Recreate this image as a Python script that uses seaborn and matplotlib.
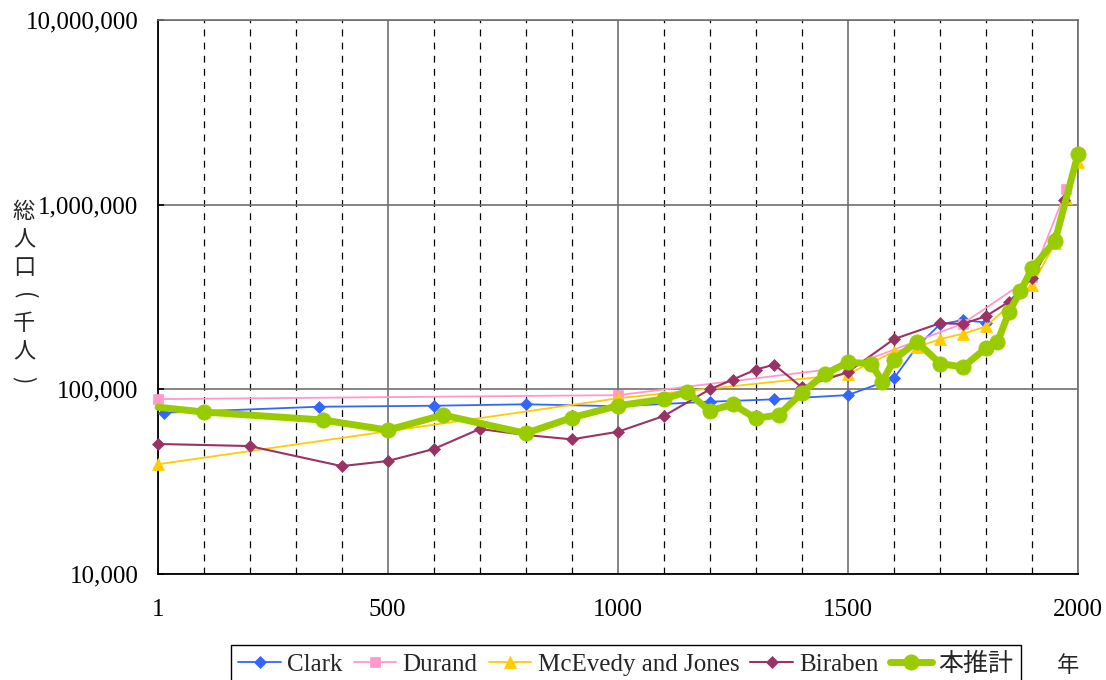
import numpy as np
import pandas as pd
import matplotlib
matplotlib.use("Agg")
import matplotlib.pyplot as plt
import seaborn as sns
from matplotlib.ticker import FixedLocator, FuncFormatter, NullLocator, MultipleLocator

# ---------------- data ----------------
clark_years = [14, 350, 600, 800, 1000, 1200, 1340, 1500, 1600, 1650, 1700, 1750, 1800]
clark_vals = [74700, 80500, 81500, 83000, 81000, 85700, 88300, 93100, 114700, 170000,
              225000, 237000, 230000]

durand_years = [1, 1000, 1500, 1750, 1900, 1975]
durand_vals = [88500, 93000, 132000, 227000, 407000, 1210000]

mcevedy_years = [1, 1000, 1500, 1600, 1650, 1700, 1750, 1800, 1900, 1950, 1975, 2000]
mcevedy_vals = [39300, 89400, 121000, 160000, 169000, 187000, 200000, 219000, 367000,
                617000, 1080000, 1710000]

biraben_years = [1, 200, 400, 500, 600, 700, 800, 900, 1000, 1100, 1200, 1250, 1300, 1340,
                 1400, 1500, 1600, 1700, 1750, 1800, 1850, 1900, 1950, 1970]
biraben_vals = [50600, 49300, 38400, 40900, 47500, 61000, 56600, 53600, 58900, 71700,
                100000, 113000, 128000, 136000, 102500, 124000, 187000, 228000, 226000,
                249000, 298000, 400000, 666000, 1060000]

est_years = [1, 100, 360, 500, 620, 800, 900, 1000, 1100, 1150, 1200, 1250, 1300, 1350,
             1400, 1450, 1500, 1550, 1575, 1600, 1650, 1700, 1750, 1800, 1825, 1850, 1875,
             1900, 1950, 2000]
est_vals = [80000, 75400, 68200, 60200, 72600, 57800, 70200, 81500, 88600, 97000, 76600,
            82900, 69700, 72600, 95900, 121000, 140000, 138000, 110000, 145000, 181000,
            138000, 132000, 167000, 180000, 263000, 339000, 452000, 635000, 1879000]

series_names = ["Clark", "Durand", "McEvedy and Jones", "Biraben", "本推計"]

x_ticks = [1, 500, 1000, 1500, 2000]
y_ticks = [10000, 100000, 1000000, 10000000]
y_label_chars = ["総", "人", "口", "(", "千", "人", ")"]
x_unit = "年"

# ---------------- style ----------------
sns.set_style("white")
plt.rcParams['font.family'] = ['Liberation Serif', 'Noto Sans CJK JP']
plt.rcParams['axes.unicode_minus'] = False

W, H = 1106, 680
fig = plt.figure(figsize=(W / 100, H / 100), dpi=100)
fig.patch.set_facecolor("white")
ax = fig.add_axes([158 / W, 1 - 574 / H, 920 / W, 554 / H])
ax.set_facecolor("white")
ax.set_yscale("log")
ax.set_xlim(1, 2000)
ax.set_ylim(1e4, 1e7)

styles = [
    dict(color="#3366FF", marker="D", markersize=6.5, linewidth=1.3),
    dict(color="#FF99CC", marker="s", markersize=7.5, linewidth=1.3),
    dict(color="#FFCC00", marker="^", markersize=8.5, linewidth=1.3),
    dict(color="#993366", marker="D", markersize=6.5, linewidth=1.5),
    dict(color="#99CC00", marker="o", markersize=11, linewidth=5.0),
]
data = [(clark_years, clark_vals), (durand_years, durand_vals),
        (mcevedy_years, mcevedy_vals), (biraben_years, biraben_vals),
        (est_years, est_vals)]

for i, ((xs, ys), name, st) in enumerate(zip(data, series_names, styles)):
    extra = {}
    if i == 4:
        extra["markevery"] = list(range(1, len(xs)))
    sns.lineplot(x=xs, y=ys, ax=ax, label=name, sort=False,
                 markeredgecolor=st["color"], markeredgewidth=0.5,
                 zorder=3 + i, clip_on=False, **st, **extra)

# ---------------- axes / grid ----------------
ax.xaxis.set_major_locator(FixedLocator(x_ticks))
ax.xaxis.set_minor_locator(MultipleLocator(100))
ax.yaxis.set_major_locator(FixedLocator(y_ticks))
ax.yaxis.set_minor_locator(NullLocator())
ax.yaxis.set_major_formatter(FuncFormatter(lambda v, p: f"{v:,.0f}"))
ax.xaxis.set_major_formatter(FuncFormatter(lambda v, p: f"{v:.0f}"))

ax.set_axisbelow(True)
ax.grid(False)
ax.grid(which="major", axis="x", color="#707070", linewidth=1.2, linestyle="-")
ax.grid(which="minor", axis="x", color="#000000", linewidth=0.9, linestyle=(0, (5.5, 5)))
ax.grid(which="major", axis="y", color="#707070", linewidth=1.2, linestyle="-")

ax.tick_params(axis="y", which="major", direction="in", length=4, width=1.2,
               pad=14, labelsize=18, colors="black", left=True)
ax.tick_params(axis="x", which="both", length=0, pad=18, labelsize=18, colors="black")
ax.set_xlabel("")
ax.set_ylabel("")

for side in ["left", "bottom"]:
    ax.spines[side].set_color("#000000")
    ax.spines[side].set_linewidth(1.3)
for side in ["top", "right"]:
    ax.spines[side].set_color("#707070")
    ax.spines[side].set_linewidth(1.2)

# ---------------- legend ----------------
handles, labels = ax.get_legend_handles_labels()
if ax.get_legend() is not None:
    ax.get_legend().remove()
leg = fig.legend(handles, labels, loc="upper center",
                 bbox_to_anchor=(626 / W, 1 - 645 / H), ncol=5, fontsize=18,
                 frameon=True, fancybox=False, framealpha=1, edgecolor="#000000",
                 handlelength=1.7, handletextpad=0.25, columnspacing=0.45,
                 borderpad=0.3, borderaxespad=0)
leg.get_frame().set_linewidth(1.0)
for h in leg.legend_handles:
    h.set_markevery([1])

# ---------------- texts ----------------
y0 = 212
for k, ch in enumerate(y_label_chars):
    rot = -90 if ch in "()" else 0
    fig.text(24 / W, 1 - (y0 + 28 * k) / H, ch, ha="center", va="center",
             rotation=rot, rotation_mode="anchor",
             fontsize=16, family="Noto Sans CJK JP")
fig.text(1068 / W, 1 - 665 / H, x_unit, ha="center", va="center",
         fontsize=16, family="Noto Sans CJK JP")

fig.savefig("out.png", dpi=100, facecolor="white")
